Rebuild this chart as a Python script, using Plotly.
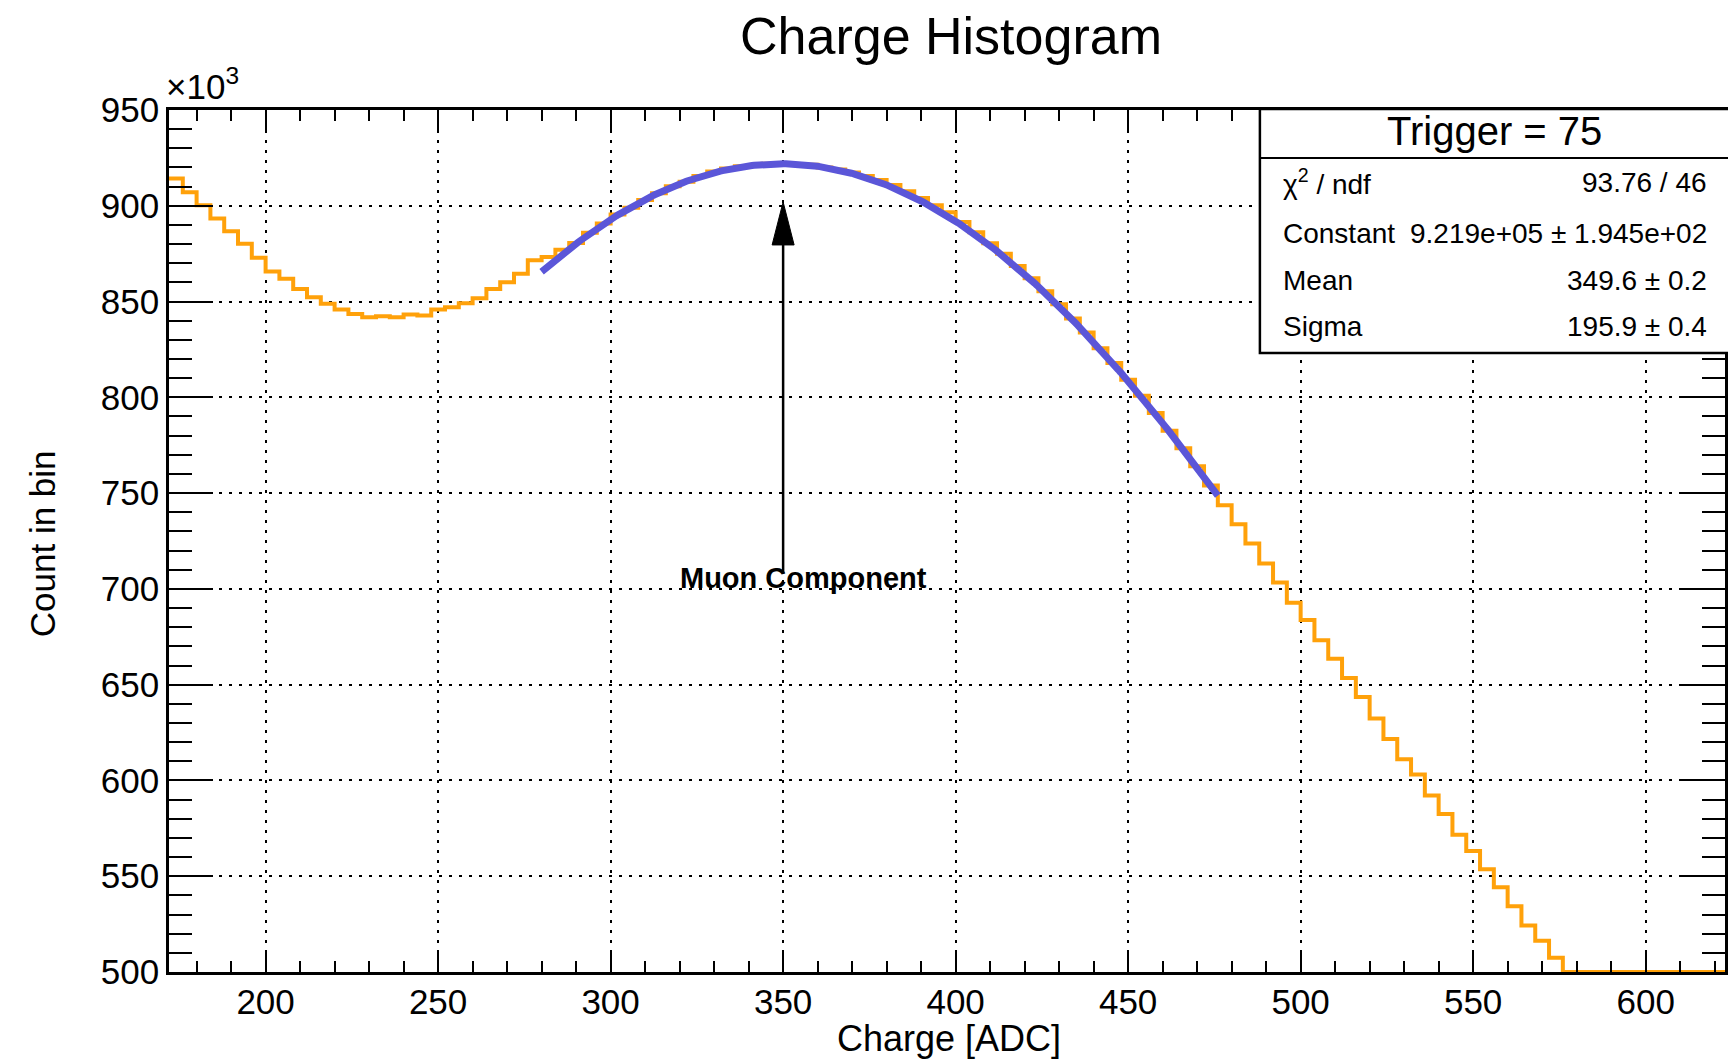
import numpy as np
import plotly.graph_objects as go

# ---------------- data ----------------
bin_start = 172          # ADC, left edge of first bin
bin_width = 4            # ADC
counts_k = [              # counts per bin, in units of 10^3
    914.3, 907.0, 900.3, 893.4, 886.7, 880.2, 872.9, 865.7, 861.9, 856.6,
    852.3, 848.8, 845.8, 843.5, 841.8, 842.3, 841.8, 843.2, 842.7, 845.8,
    847.0, 849.1, 851.7, 856.6, 860.1, 864.5, 871.5,
    873.3, 877.0, 880.6, 885.9, 890.8, 895.4, 899.0, 903.0, 906.5, 910.2,
    912.5, 915.6, 917.9, 919.4, 920.6, 921.0, 921.9, 922.1, 921.5, 921.4,
    920.0, 919.0, 917.4, 915.5, 913.4, 910.8, 907.6, 904.0, 900.3, 896.6,
    891.5, 886.2, 880.4, 874.9, 868.5, 862.2, 855.4, 848.6, 841.2, 833.8,
    825.6, 817.9, 809.2, 800.8, 791.8, 782.6, 773.4, 764.0, 754.0,
    743.6, 733.7, 723.7, 713.3, 703.4, 692.8, 683.8, 673.2, 663.5, 653.5,
    643.5, 632.4, 621.6, 611.0, 603.1, 592.1, 582.5, 571.6, 563.2, 553.6,
    544.3, 534.3, 524.3, 516.3, 507.4,
    497.5, 488.2, 479.0, 470.1, 460.8, 452.0, 443.3, 434.1, 425.6, 417.0,
    408.4, 400.1,
]

# Gaussian fit (parameters from the stats box)
fit_constant = 9.219e5
fit_mean = 349.6
fit_sigma = 195.9
fit_xmin, fit_xmax = 280, 476

stats_title = "Trigger = 75"
stats_labels = ["χ<sup>2</sup> / ndf", "Constant", "Mean", "Sigma"]
stats_values = ["93.76 / 46", "9.219e+05 ± 1.945e+02", "349.6 ± 0.2", "195.9 ± 0.4"]

x_range = [172, 623]
y_range = [500, 950]
x_major, y_major = 50, 50
x_minor, y_minor = 10, 10

arrow_x = 350
arrow_tail_y = 708
arrow_tip_y = 902
arrow_label = "Muon Component"
label_x, label_y = 356, 705.5

# ---------------- drawing ----------------
FONT = "Liberation Sans, Arial, Helvetica, sans-serif"
ORANGE = "#FFA10A"
BLUE = "#5B56D8"

counts = np.array(counts_k)
edges = bin_start + bin_width * np.arange(len(counts) + 1)
hist_x = edges
hist_y = np.clip(np.append(counts, counts[-1]), y_range[0], y_range[1])

fit_x = np.linspace(fit_xmin, fit_xmax, 300)
fit_y = fit_constant * np.exp(-0.5 * ((fit_x - fit_mean) / fit_sigma) ** 2) / 1e3

fig = go.Figure()
fig.add_trace(go.Scatter(x=hist_x, y=hist_y, mode="lines", line_shape="hv",
                         line=dict(color=ORANGE, width=4), showlegend=False,
                         hoverinfo="skip"))
fig.add_trace(go.Scatter(x=fit_x, y=fit_y, mode="lines",
                         line=dict(color=BLUE, width=7), showlegend=False,
                         hoverinfo="skip"))

grid_dash = "3px,7px"
fig.update_xaxes(range=x_range, dtick=x_major, tick0=0, showgrid=True,
                 gridcolor="black", gridwidth=1.5, griddash=grid_dash,
                 ticks="inside", ticklen=22, tickwidth=1.5, tickcolor="black",
                 minor=dict(ticks="inside", ticklen=11, dtick=x_minor, tick0=0,
                            tickcolor="black", tickwidth=1.5, showgrid=False),
                 showline=True, linecolor="black", linewidth=2.5, mirror="allticks",
                 zeroline=False, tickfont=dict(family=FONT, size=35, color="black"),
                 ticklabelstandoff=-3)
fig.update_yaxes(range=y_range, dtick=y_major, tick0=0, showgrid=True,
                 gridcolor="black", gridwidth=1.5, griddash=grid_dash,
                 ticks="inside", ticklen=44, tickwidth=1.5, tickcolor="black",
                 minor=dict(ticks="inside", ticklen=23, dtick=y_minor, tick0=0,
                            tickcolor="black", tickwidth=1.5, showgrid=False),
                 showline=True, linecolor="black", linewidth=2.5, mirror="allticks",
                 zeroline=False, tickfont=dict(family=FONT, size=35, color="black"),
                 ticklabelstandoff=0)

L, T, B = 169, 110, 87
W, H = 1728, 1059
pw = W - L
ph = H - T - B

def px_x(px):
    return (px - L) / pw

def px_y(py):
    return (H - B - py) / ph

shapes = []
# arrow stem and head
shapes.append(dict(type="line", xref="x", yref="y", x0=arrow_x, x1=arrow_x,
                   y0=arrow_tail_y, y1=arrow_tip_y - 10,
                   line=dict(color="black", width=2.5), layer="above"))
shapes.append(dict(type="path", xref="x", yref="y", xsizemode="pixel",
                   ysizemode="pixel", xanchor=arrow_x, yanchor=arrow_tip_y,
                   path="M 0 0 L -11 -43 L 11 -43 Z", fillcolor="black",
                   line=dict(color="black", width=1), layer="above"))
# stats box
box_top, box_bottom, box_sep = 109, 353, 158
shapes.append(dict(type="rect", xref="paper", yref="paper",
                   x0=px_x(1262), x1=1.02, y0=px_y(box_bottom), y1=px_y(box_top),
                   fillcolor="white", line=dict(color="black", width=2.5),
                   layer="above"))
shapes.append(dict(type="line", xref="paper", yref="paper",
                   x0=px_x(1262), x1=1.02, y0=px_y(box_sep), y1=px_y(box_sep),
                   line=dict(color="black", width=2), layer="above"))

ann = []
ann.append(dict(text=stats_title, xref="paper", yref="paper", x=px_x(1497),
                y=px_y(131), xanchor="center", yanchor="middle", showarrow=False,
                font=dict(family=FONT, size=40, color="black")))
row_y = [182, 233, 280, 326]
for lab, val, yy in zip(stats_labels, stats_values, row_y):
    ann.append(dict(text=lab, xref="paper", yref="paper", x=px_x(1283),
                    y=px_y(yy), xanchor="left", yanchor="middle", showarrow=False,
                    font=dict(family=FONT, size=28, color="black")))
    ann.append(dict(text=val, xref="paper", yref="paper", x=px_x(1712),
                    y=px_y(yy), xanchor="right", yanchor="middle", showarrow=False,
                    font=dict(family=FONT, size=28, color="black")))
# arrow label
ann.append(dict(text="<b>" + arrow_label + "</b>", xref="x", yref="y",
                x=label_x, y=label_y, xanchor="center", yanchor="middle",
                showarrow=False, font=dict(family=FONT, size=29, color="black")))
# exponent
ann.append(dict(text="×10<sup>3</sup>", xref="paper", yref="paper", x=px_x(164),
                y=px_y(108), xanchor="left", yanchor="bottom", showarrow=False,
                font=dict(family=FONT, size=35, color="black")))
# axis titles
ann.append(dict(text="Charge [ADC]", xref="paper", yref="paper", x=px_x(951),
                y=px_y(1038), xanchor="center", yanchor="middle", showarrow=False,
                font=dict(family=FONT, size=36, color="black")))
ann.append(dict(text="Count in bin", xref="paper", yref="paper", x=px_x(42),
                y=px_y(544), xanchor="center", yanchor="middle", showarrow=False,
                textangle=-90, font=dict(family=FONT, size=35, color="black")))

fig.update_layout(
    width=W, height=H,
    margin=dict(l=L, r=0, t=T, b=B, pad=0),
    paper_bgcolor="white", plot_bgcolor="white",
    title=dict(text="Charge Histogram", x=951 / W, y=1 - 36 / H,
               xanchor="center", yanchor="middle",
               font=dict(family=FONT, size=52, color="black")),
    shapes=shapes, annotations=ann, showlegend=False,
)

fig.write_html("out.html")
